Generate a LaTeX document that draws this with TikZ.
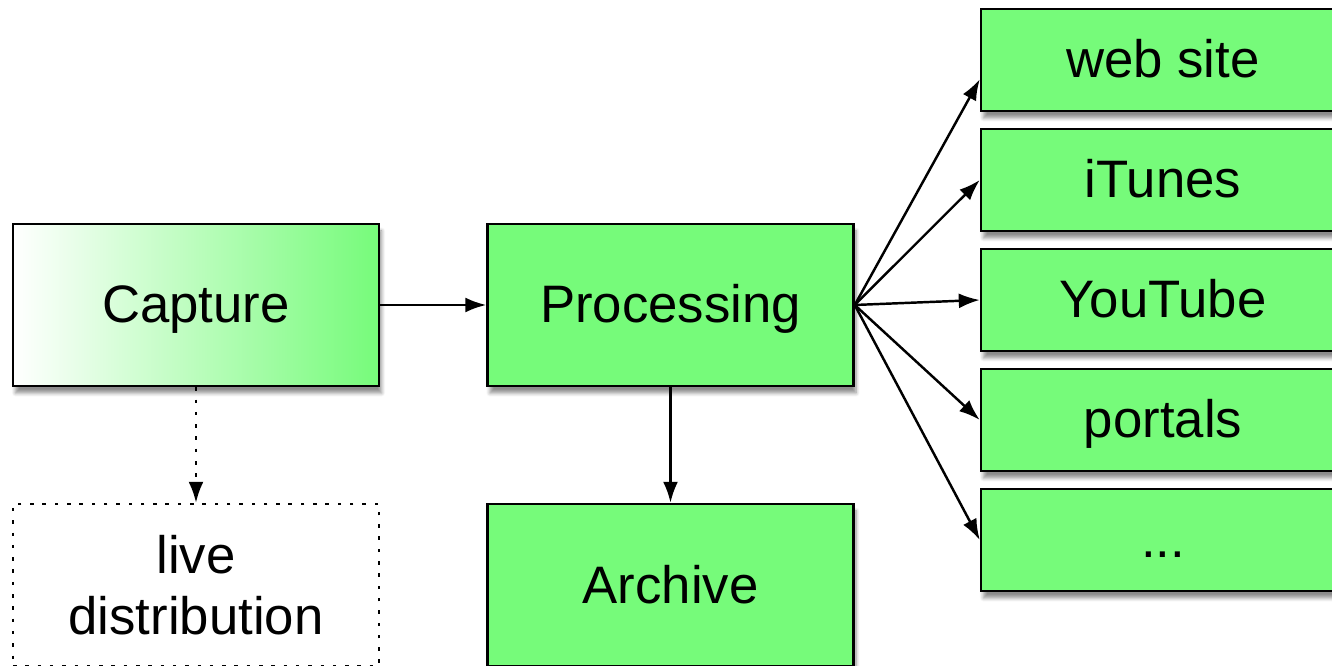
\documentclass[tikz,border=0pt]{standalone}
\usepackage{fontspec}
\setmainfont{Liberation Sans}
\usepackage{xcolor}
\usetikzlibrary{arrows.meta,shadows.blur}
\definecolor{boxgreen}{RGB}{118,251,122}

\begin{document}
\begin{tikzpicture}[
    >={Latex[length=0.42cm,width=0.3cm]},
    every node/.style={font=\fontsize{30}{35}\selectfont},
    conn/.style={->,line width=1.4pt},
    greenbox/.style={draw,line width=1.4pt,fill=boxgreen,
        blur shadow={shadow xshift=0.05cm,shadow yshift=-0.14cm,
            shadow blur steps=6,shadow opacity=45}}]
\useasboundingbox (0,0) rectangle (26.64,13.32);
\path
    [minimum width=7.32cm,minimum height=3.24cm]
    (3.92,7.22) node [greenbox,left color=white,right color=boxgreen,text height=24pt,text depth=4pt] (capture) {Capture}
    +(9.49,0) node [greenbox,text height=24pt,text depth=4pt] (processing) {Processing}
    +(9.49,-5.6) node [greenbox] (archive) {Archive}
    +(0,-5.6) node [draw,line width=1.4pt,dash pattern=on 2pt off 5pt,align=center] (live) {live\\distribution};
\path
    [minimum width=7.28cm,minimum height=2.04cm,text height=24pt,text depth=4pt]
    (23.26,12.12) node [greenbox] (web) {web site}
    +(0,-2.4) node [greenbox] (itunes) {iTunes}
    +(0,-4.8) node [greenbox] (youtube) {YouTube}
    +(0,-7.2) node [greenbox] (portals) {portals}
    +(0,-9.6) node [greenbox] (more) {...};
\draw [conn] (capture.east) -- (processing.west);
\draw [conn] (processing.south) -- (archive.north);
\draw [conn,dash pattern=on 2pt off 5pt] (capture.south) -- (live.north);
\draw [conn] (processing.east) -- (web.186);
\draw [conn] (processing.east) -- (itunes.west);
\draw [conn] (processing.east) -- (youtube.west);
\draw [conn] (processing.east) -- (portals.west);
\draw [conn] (processing.east) -- (more.west);
\end{tikzpicture}
\end{document}
